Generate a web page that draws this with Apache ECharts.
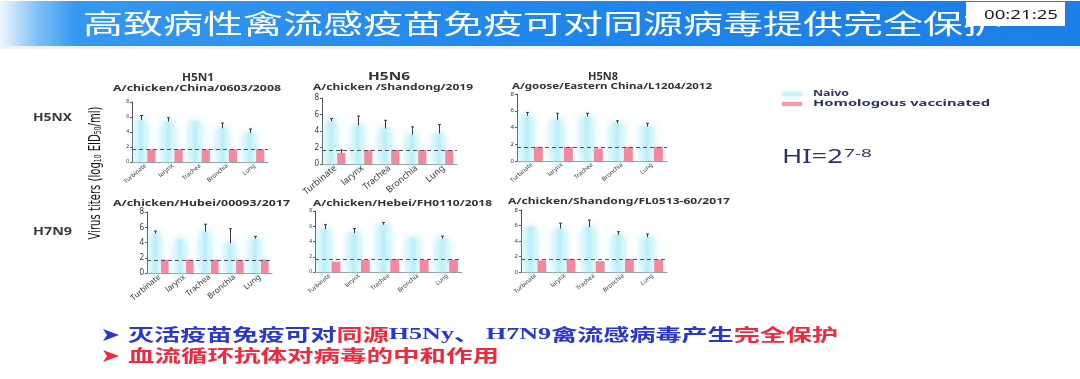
<!DOCTYPE html>
<html><head><meta charset="utf-8">
<script src="https://cdn.jsdelivr.net/npm/echarts@6/dist/echarts.min.js"></script>
<style>html,body{margin:0;padding:0;background:#fff}#c{width:1080px;height:379px}</style>
</head><body><div id="c"></div>
<script>
// ---------- DATA ----------
const categories = ['Turbinate', 'larynx', 'Trachea', 'Bronchia', 'Lung'];
const yTickMax = 8;
const yTickStep = 2;
const detectionLimit = 1.7;
const seriesNames = ['Naivo', 'Homologous vaccinated'];
const subtypeTitles = ['H5N1', 'H5N6', 'H5N8'];
const strainNames = [
  'A/chicken/China/0603/2008',
  'A/chicken /Shandong/2019',
  'A/goose/Eastern China/L1204/2012',
  'A/chicken/Hubei/00093/2017',
  'A/chicken/Hebei/FH0110/2018',
  'A/chicken/Shandong/FL0513-60/2017'
];
const rowLabels = ['H5NX', 'H7N9'];

// naive mean, naive upper error bar end, vaccinated mean
const H5N1_naive = [5.6, 5.4, 5.4, 4.5, 3.9];
const H5N1_naiveErr = [6.2, 5.9, 5.4, 5.2, 4.4];
const H5N1_vacc = [1.7, 1.7, 1.7, 1.7, 1.7];

const H5N6_naive = [5.2, 4.7, 4.3, 3.55, 3.7];
const H5N6_naiveErr = [5.5, 5.8, 5.3, 4.5, 4.8];
const H5N6_vacc = [1.35, 1.7, 1.7, 1.7, 1.7];
const H5N6_vaccErr = [1.7, 1.7, 1.7, 1.7, 1.7];

const H5N8_naive = [5.4, 4.9, 5.3, 4.5, 4.1];
const H5N8_naiveErr = [5.8, 5.7, 5.7, 4.8, 4.5];
const H5N8_vacc = [1.7, 1.7, 1.5, 1.7, 1.7];

const H7N9a_naive = [5.2, 4.4, 5.4, 3.9, 4.5];
const H7N9a_naiveErr = [5.5, 4.4, 6.4, 5.8, 4.8];
const H7N9a_vacc = [1.75, 1.75, 1.75, 1.75, 1.75];

const H7N9b_naive = [5.6, 5.1, 6.2, 4.5, 4.4];
const H7N9b_naiveErr = [6.2, 5.7, 6.5, 4.5, 4.7];
const H7N9b_vacc = [1.35, 1.6, 1.7, 1.6, 1.6];

const H7N9c_naive = [5.8, 5.6, 5.8, 4.8, 4.5];
const H7N9c_naiveErr = [5.8, 6.3, 6.7, 5.2, 4.9];
const H7N9c_vacc = [1.5, 1.7, 1.4, 1.7, 1.6];

const slideTitle = '高致病性禽流感疫苗免疫可对同源病毒提供完全保护';
const timestamp = '00:21:25';
const hiMain = 'HI=2';
const hiSup = '7-8';

// ---------- LAYOUT ----------
const panels = [
  {naive: H5N1_naive, err: H5N1_naiveErr, vacc: H5N1_vacc, vaccErr: null, grid: {left: 132, top: 102, width: 136, height: 60}, catFont: 6, yFont: 5},
  {naive: H5N6_naive, err: H5N6_naiveErr, vacc: H5N6_vacc, vaccErr: H5N6_vaccErr, grid: {left: 322, top: 98, width: 135, height: 66}, catFont: 9, yFont: 8},
  {naive: H5N8_naive, err: H5N8_naiveErr, vacc: H5N8_vacc, vaccErr: null, grid: {left: 517, top: 94, width: 150, height: 67}, catFont: 6, yFont: 6},
  {naive: H7N9a_naive, err: H7N9a_naiveErr, vacc: H7N9a_vacc, vaccErr: null, grid: {left: 147, top: 212, width: 125, height: 61}, catFont: 8, yFont: 8},
  {naive: H7N9b_naive, err: H7N9b_naiveErr, vacc: H7N9b_vacc, vaccErr: null, grid: {left: 315, top: 211, width: 147, height: 61}, catFont: 6, yFont: 5},
  {naive: H7N9c_naive, err: H7N9c_naiveErr, vacc: H7N9c_vacc, vaccErr: null, grid: {left: 521, top: 210, width: 146, height: 62}, catFont: 6, yFont: 6}
];
// title positions: [left, right, centerY]
const strainPos = [[113, 281, 88], [313, 473, 87], [512, 712, 86], [113, 290, 203], [313, 492, 203], [508, 730, 201]];
const subtypePos = [[182, 214, 78], [368, 410, 77], [588, 618, 77]];

const NW = 0.38, PW = 0.30, GAP = 0.12;
const TOTAL = NW + NW * GAP + PW;
const naiveOff = -TOTAL / 2 + NW / 2;
const vaccOff = -TOTAL / 2 + NW + NW * GAP + PW / 2;

const mctx = document.createElement('canvas').getContext('2d');
function tw(text, size, weight, family) {
  mctx.font = (weight || 'normal') + ' ' + size + 'px ' + family;
  return mctx.measureText(text).width;
}
function stext(text, x, y, targetW, size, weight, family, fill, align, z) {
  const w = tw(text, size, weight, family);
  return {
    type: 'text', x: x, y: y, scaleX: targetW / w, z: z || 10,
    style: {text: text, x: 0, y: 0, fontSize: size, fontWeight: weight || 'normal', fontFamily: family, fill: fill,
      align: align || 'left', verticalAlign: 'middle', textAlign: align || 'left', textVerticalAlign: 'middle'}
  };
}

function errSeries(idx, base, tops, frac) {
  const data = [];
  base.forEach((v, i) => { if (tops && tops[i] != null && tops[i] > v + 0.01) data.push([i, v, tops[i]]); });
  return {
    type: 'custom', xAxisIndex: idx, yAxisIndex: idx, z: 6, silent: true,
    data: data,
    renderItem: function (params, api) {
      const bw = api.size([1, 0])[0];
      const x = api.value(0);
      const p0 = api.coord([x, api.value(1)]);
      const p1 = api.coord([x, api.value(2)]);
      const cx = Math.round(p0[0] + frac * bw) + 0.5;
      const cap = 1.5;
      return {type: 'group', children: [
        {type: 'line', shape: {x1: cx, y1: p0[1], x2: cx, y2: p1[1]}, style: {stroke: '#3a3a3a', lineWidth: 1}},
        {type: 'line', shape: {x1: cx - cap, y1: p1[1], x2: cx + cap, y2: p1[1]}, style: {stroke: '#3a3a3a', lineWidth: 1}}
      ]};
    }
  };
}

const grids = [], xAxes = [], yAxes = [], series = [];
const naiveColor = new echarts.graphic.LinearGradient(0, 0, 1, 0, [
  {offset: 0, color: '#dcf8fc'}, {offset: 0.5, color: '#b8eef8'}, {offset: 1, color: '#dcf8fc'}
]);
panels.forEach((p, i) => {
  grids.push(Object.assign({containLabel: false}, p.grid));
  xAxes.push({
    type: 'category', gridIndex: i, data: categories,
    axisLine: {lineStyle: {color: '#9a9a9a', width: 1}},
    axisTick: {show: false},
    axisLabel: {rotate: 40, fontSize: p.catFont, color: '#333', margin: 3, interval: 0, fontFamily: 'Noto Sans'}
  });
  yAxes.push({
    type: 'value', gridIndex: i, min: 0, max: yTickMax, interval: yTickStep,
    axisLine: {show: true, lineStyle: {color: '#555', width: 1}},
    axisTick: {show: true, length: 2, lineStyle: {color: '#555'}},
    splitLine: {show: false},
    axisLabel: {fontSize: p.yFont, color: '#333', margin: 3, fontFamily: 'Noto Sans'}
  });
  series.push({
    name: seriesNames[0], type: 'bar', xAxisIndex: i, yAxisIndex: i, data: p.naive,
    barWidth: (NW * 100) + '%', barGap: (GAP * 100) + '%',
    itemStyle: {color: naiveColor, shadowBlur: 8, shadowColor: 'rgba(160,232,246,0.95)'}
  });
  series.push({
    name: seriesNames[1], type: 'bar', xAxisIndex: i, yAxisIndex: i, data: p.vacc,
    barWidth: (PW * 100) + '%',
    itemStyle: {color: '#f3889f'},
    markLine: {silent: true, symbol: 'none', label: {show: false},
      lineStyle: {type: [4, 3], color: '#555', width: 1}, data: [{yAxis: detectionLimit}]}
  });
  series.push(errSeries(i, p.naive, p.err, naiveOff));
  if (p.vaccErr) series.push(errSeries(i, p.vacc, p.vaccErr, vaccOff));
});

// ---------- GRAPHIC (slide text) ----------
const CJK = '"Noto Sans CJK SC", sans-serif';
const SANS = '"Noto Sans", sans-serif';
const g = [];
g.push({type: 'rect', shape: {x: 0, y: 1, width: 1080, height: 45}, z: 1,
  style: {fill: new echarts.graphic.LinearGradient(0, 0, 1, 0, [
    {offset: 0, color: '#eef6fe'}, {offset: 0.035, color: '#7fc0f6'}, {offset: 0.07, color: '#3598ef'},
    {offset: 0.5, color: '#1f86ec'}, {offset: 1, color: '#1a7fe6'}])}});
g.push({type: 'rect', shape: {x: 0, y: 46, width: 1080, height: 3}, z: 1, style: {fill: '#eef2f6'}});
g.push(stext(slideTitle, 83, 24, 920, 27, 'normal', CJK, '#ffffff', 'left', 5));
g.push({type: 'rect', shape: {x: 966, y: 2, width: 99, height: 24}, z: 20, style: {fill: '#ffffff'}});
g.push(stext(timestamp, 1021, 15, 74, 13, 'normal', SANS, '#1a1a1a', 'center', 21));

subtypeTitles.forEach((t, i) => {
  const p = subtypePos[i];
  g.push(stext(t, (p[0] + p[1]) / 2, p[2], p[1] - p[0], 11, 'bold', SANS, '#333', 'center'));
});
strainNames.forEach((t, i) => {
  const p = strainPos[i];
  g.push(stext(t, p[0], p[2], p[1] - p[0], 9, 'bold', SANS, '#333', 'left'));
});
g.push(stext(rowLabels[0], 33, 118, 39, 10, 'bold', SANS, '#3a3a3a', 'left'));
g.push(stext(rowLabels[1], 33, 232, 39, 10, 'bold', SANS, '#3a3a3a', 'left'));

// y axis title with subscripts
(function () {
  const fam = '"DejaVu Sans Condensed", "DejaVu Sans", sans-serif';
  const parts = [['Virus titers (log', 15], ['10', 9], [' EID', 15], ['50', 9], ['/ml)', 15]];
  let w = 0; parts.forEach(p => { w += tw(p[0], p[1], 'normal', fam); });
  g.push({type: 'text', x: 94, y: 173, rotation: Math.PI / 2, scaleX: 133 / w, z: 10,
    style: {text: '{a|Virus titers (log}{s|10}{a| EID}{s|50}{a|/ml)}', x: 0, y: 0,
      align: 'center', verticalAlign: 'middle', textAlign: 'center', textVerticalAlign: 'middle',
      fill: '#111', fontFamily: fam, fontSize: 15,
      rich: {a: {fontSize: 15, fontFamily: fam, fill: '#111', verticalAlign: 'bottom', lineHeight: 19},
             s: {fontSize: 9, fontFamily: fam, fill: '#111', verticalAlign: 'bottom', lineHeight: 15}}}});
})();

// legend
g.push({type: 'rect', shape: {x: 782, y: 92, width: 20, height: 4}, z: 10, style: {fill: '#c8f3fa', shadowBlur: 3, shadowColor: 'rgba(170,235,248,0.9)'}});
g.push({type: 'rect', shape: {x: 782, y: 102, width: 20, height: 4}, z: 10, style: {fill: '#f49ab0', shadowBlur: 2, shadowColor: 'rgba(244,154,176,0.6)'}});
g.push(stext(seriesNames[0], 813, 94, 36, 8, 'bold', SANS, '#2b3560', 'left'));
g.push(stext(seriesNames[1], 813, 104, 177, 8, 'bold', SANS, '#2b3560', 'left'));

// HI label
g.push(stext(hiMain, 782, 158, 61, 19, 'normal', SANS, '#2b3560', 'left'));
g.push(stext(hiSup, 844, 154, 28, 11, 'normal', SANS, '#2b3560', 'left'));

// bottom bullet lines
(function () {
  const SERIF = '"Liberation Serif", "DejaVu Serif", serif';
  const blue = '#2a36d0', red = '#ef2a3e';
  const line1 = [['灭活疫苗免疫可对', blue, CJK], ['同源', red, CJK], ['H5Ny', blue, SERIF], ['、 ', blue, CJK],
    ['H7N9', blue, SERIF], ['禽流感病毒产生', blue, CJK], ['完全保护', red, CJK]];
  const line2 = [['血流循环抗体对病毒的中和作用', red, CJK]];
  function place(line, y, x0, x1) {
    let total = 0; line.forEach(s => { total += tw(s[0], 17, 'bold', s[2]); });
    const sc = (x1 - x0) / total;
    let x = x0;
    line.forEach(s => {
      const w = tw(s[0], 17, 'bold', s[2]);
      g.push({type: 'text', x: x, y: y, scaleX: sc, z: 10,
        style: {text: s[0], x: 0, y: 0, fontSize: 17, fontWeight: 'bold', fontFamily: s[2], fill: s[1],
          align: 'left', verticalAlign: 'middle', textAlign: 'left', textVerticalAlign: 'middle'}});
      x += w * sc;
    });
  }
  place(line1, 335, 128, 838);
  place(line2, 356, 128, 499);
  g.push({type: 'polygon', z: 10, shape: {points: [[103, 329], [119, 335], [103, 341], [107, 335]]}, style: {fill: blue}});
  g.push({type: 'polygon', z: 10, shape: {points: [[103, 350], [119, 356], [103, 362], [107, 356]]}, style: {fill: red}});
})();

const chart = echarts.init(document.getElementById('c'), null, {renderer: 'canvas', width: 1080, height: 379});
chart.setOption({
  animation: false,
  backgroundColor: '#ffffff',
  grid: grids,
  xAxis: xAxes,
  yAxis: yAxes,
  series: series,
  graphic: {elements: g}
});
</script>
</body></html>
